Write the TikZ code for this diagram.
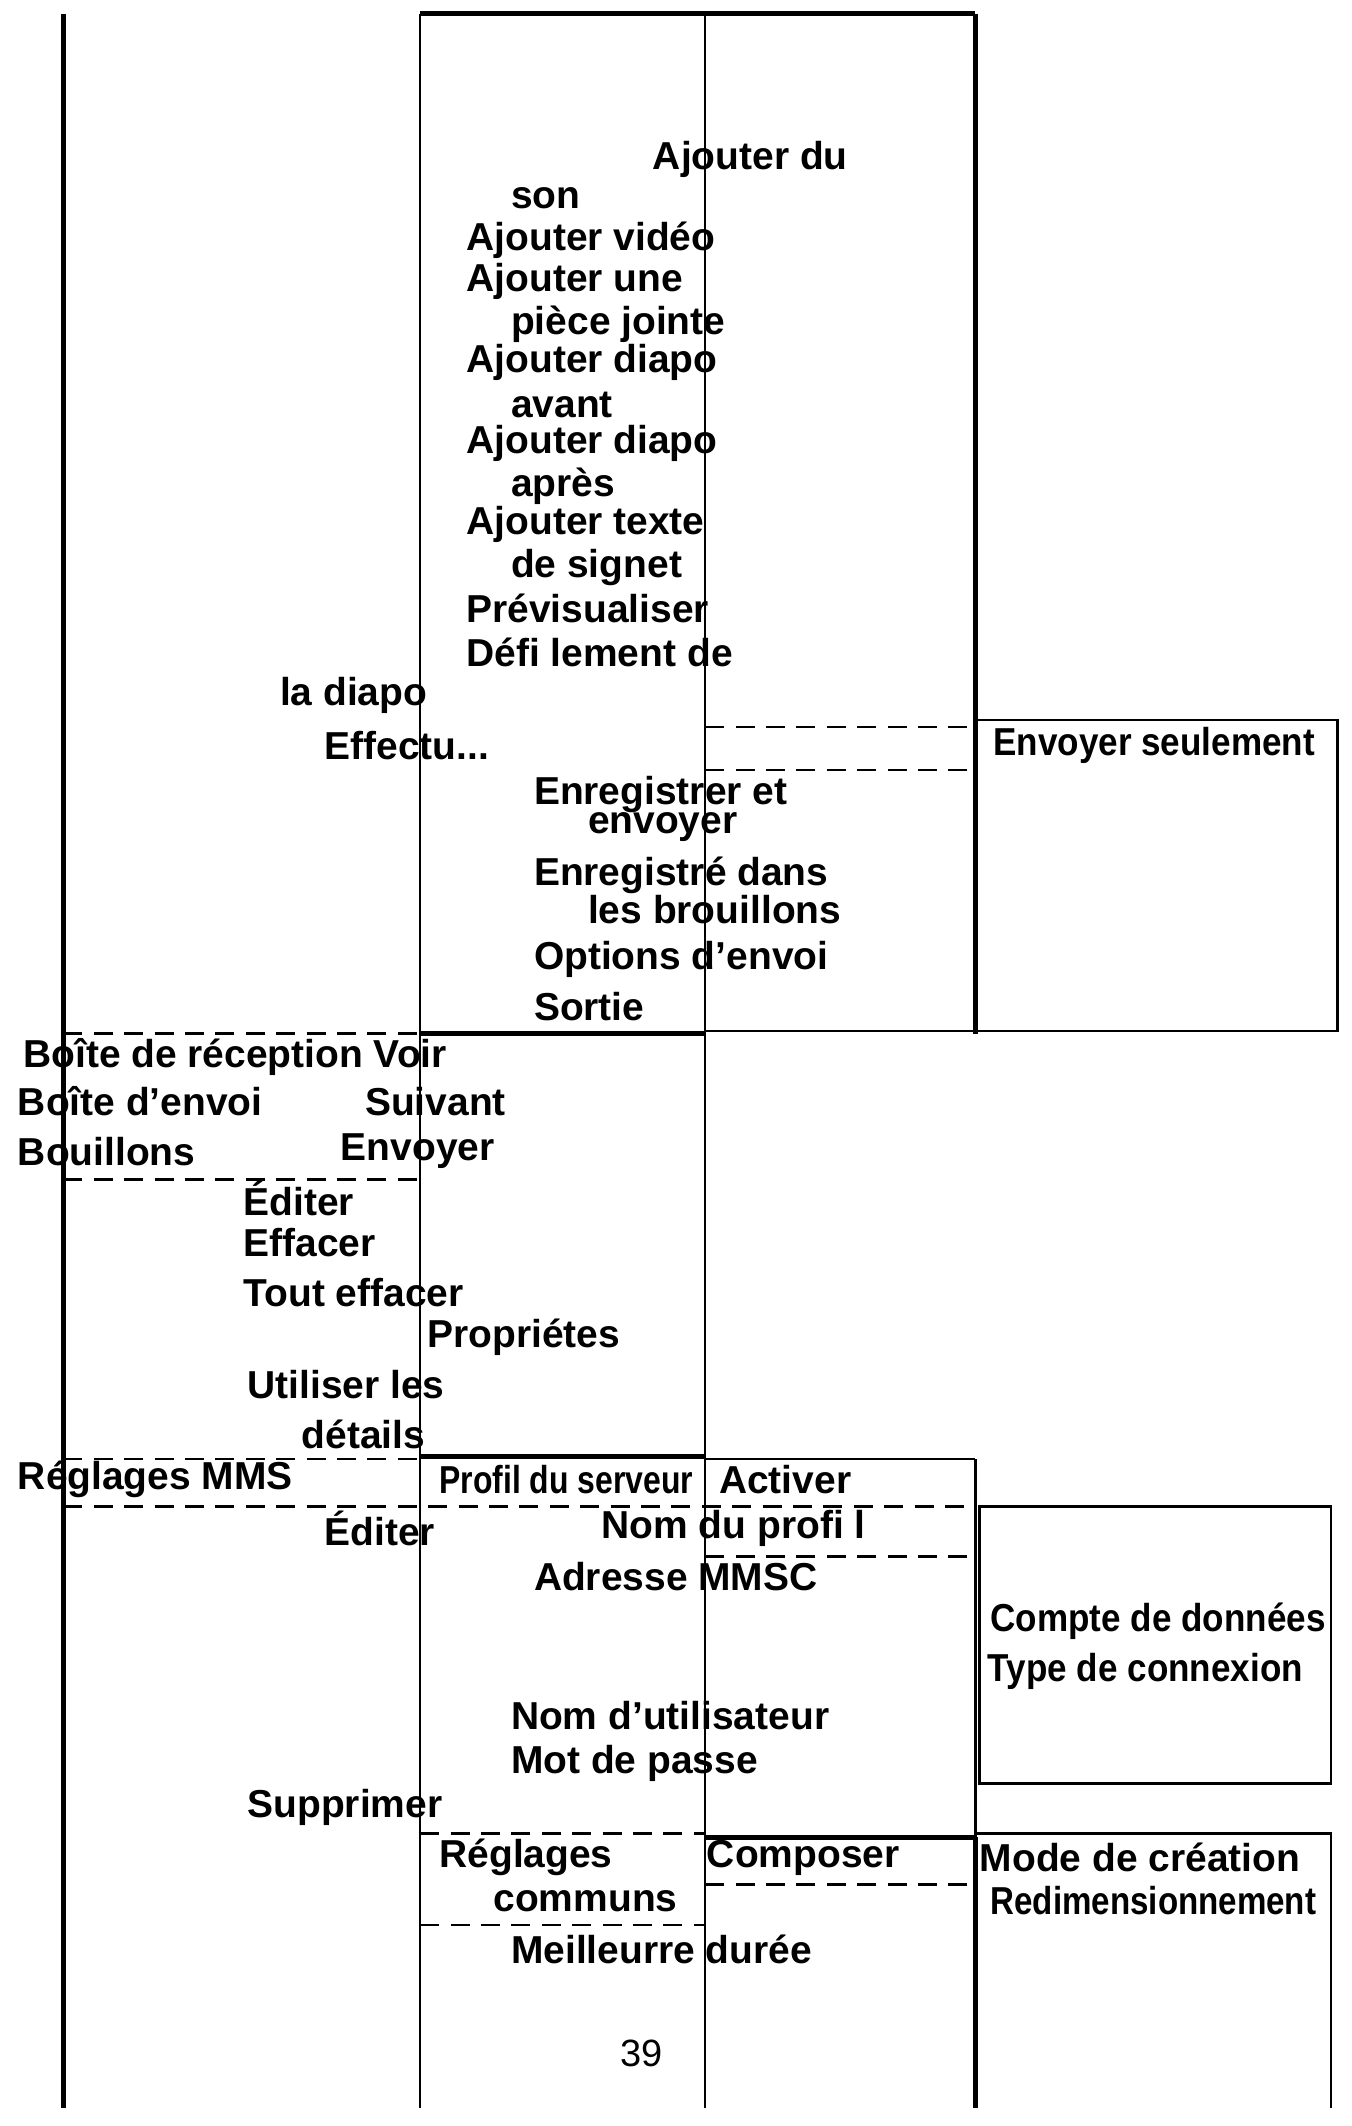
\documentclass[tikz,border=0pt]{standalone}
\usepackage{fontspec}
\setmainfont{Liberation Sans}
\begin{document}
\begin{tikzpicture}[x=0.025cm,y=-0.025cm,
  t/.style={anchor=west,inner sep=0pt,font=\fontsize{20.5}{22}\selectfont\bfseries},
  tc/.style={t,xscale=0.9},
  thin/.style={line width=1.3pt},
  thk/.style={line width=3pt},
  dsh/.style={line width=1.3pt,dash pattern=on 10pt off 6pt}]
\useasboundingbox (0,0) rectangle (1000,1573.6);
% verticals
\draw[thk] (47,10) -- (47,1560);
\draw[thin] (311,10) -- (311,1560);
\draw[thin] (522,10) -- (522,1560);
\draw[thk] (722,10) -- (722,765);
\draw[thin] (722,1080) -- (722,1360);
\draw[thk] (722,1360) -- (722,1560);
\draw[thk] (311,10) -- (722,10);
% Envoyer seulement box
\draw[thin] (722,533) -- (990,533) -- (990,763) -- (722,763);
\draw[dsh] (522,538) -- (722,538);
\draw[dsh] (522,570) -- (722,570);
\draw[thin] (522,763) -- (722,763);
\draw[thk] (311,765) -- (522,765);
\draw[dsh] (47,765) -- (311,765);
\draw[dsh] (47,873) -- (311,873);
\draw[thk] (311,1078) -- (522,1078);
\draw[dsh] (47,1080) -- (311,1080);
\draw[thin] (522,1080) -- (722,1080);
\draw[dsh] (47,1115) -- (722,1115);
\draw[dsh] (522,1152) -- (722,1152);
\draw[thin] (725,1115) rectangle (985,1320);
\draw[dsh] (311,1357) -- (522,1357);
\draw[thk] (522,1360) -- (722,1360);
\draw[dsh] (522,1395) -- (722,1395);
\draw[dsh] (311,1425) -- (522,1425);
\draw[thin] (722,1357) -- (985,1357) -- (985,1560);
% texts
\node[t] (a1) at (483,118) {Ajouter du};
\node[t] (a2) at (378,147) {son};
\node[t] (a3) at (345,178) {Ajouter vidéo};
\node[t] (a4) at (345,208) {Ajouter une};
\node[t] (a5) at (378,240) {pièce jointe};
\node[t] (a6) at (345,268) {Ajouter diapo};
\node[t] (a7) at (378,300) {avant};
\node[t] (a8) at (345,328) {Ajouter diapo};
\node[t] (a9) at (378,360) {après};
\node[t] (a10) at (345,388) {Ajouter texte};
\node[t] (a11) at (378,420) {de signet};
\node[t] (a12) at (345,450) {Prévisualiser};
\node[t] (a13) at (345,483) {Défi lement de};
\node[t] (a14) at (207,515) {la diapo};
\node[t] (a15) at (240,552) {Effectu...};
\node[t] (a16) at (395,588) {Enregistrer et};
\node[t] (a17) at (435,612) {envoyer};
\node[t] (a18) at (395,648) {Enregistré dans};
\node[t] (a19) at (435,673) {les brouillons};
\node[t] (a20) at (395,710) {Options d’envoi};
\node[t] (a21) at (395,745) {Sortie};
\node[tc] (b1) at (735,552) {Envoyer seulement};
\node[t] (c1) at (17,782) {Boîte de réception Voir};
\node[t] (c2) at (13,815) {Boîte d’envoi};
\node[t] (c3) at (270,815) {Suivant};
\node[t] (c4) at (13,852) {Bouillons};
\node[t] (c5) at (252,852) {Envoyer};
\node[t] (c6) at (180,887) {Éditer};
\node[t] (c7) at (180,920) {Effacer};
\node[t] (c8) at (180,957) {Tout effacer};
\node[t] (c9) at (316,990) {Propriétes};
\node[t] (c10) at (183,1025) {Utiliser les};
\node[t] (c11) at (223,1062) {détails};
\node[t] (d1) at (13,1095) {Réglages MMS};
\node[t,xscale=0.82] (d2) at (325,1095) {Profil du serveur};
\node[t] (d3) at (532,1095) {Activer};
\node[t] (d4) at (240,1131) {Éditer};
\node[t] (d5) at (445,1131) {Nom du profi l};
\node[t] (d6) at (395,1167) {Adresse MMSC};
\node[tc] (d7) at (733,1200) {Compte de données};
\node[tc] (d8) at (731,1237) {Type de connexion};
\node[t] (d9) at (378,1270) {Nom d’utilisateur};
\node[t] (d10) at (378,1305) {Mot de passe};
\node[t] (d11) at (183,1338) {Supprimer};
\node[t] (e1) at (325,1375) {Réglages};
\node[t] (e2) at (365,1407) {communs};
\node[t] (e3) at (523,1375) {Composer};
\node[t] (e4) at (725,1375) {Mode de création};
\node[t,xscale=0.85] (e5) at (733,1407) {Redimensionnement};
\node[t] (e6) at (378,1443) {Meilleurre durée};
\node[anchor=center,inner sep=0pt,font=\fontsize{20}{22}\selectfont] (pg) at (475,1520) {39};
\end{tikzpicture}
\end{document}
